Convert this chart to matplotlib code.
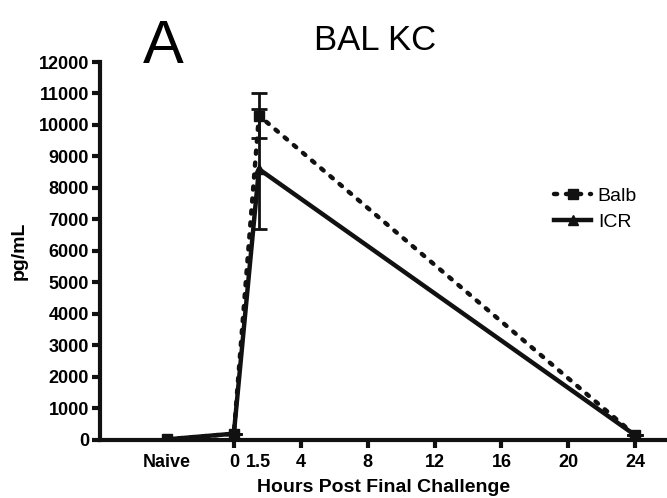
import matplotlib
matplotlib.use("Agg")
import matplotlib.pyplot as plt

plt.rcParams["font.family"] = ["Liberation Sans", "DejaVu Sans"]

# data (hours; naive plotted at -4)
hours = [-4, 0, 1.5, 24]
balb = [20, 200, 10300, 150]
balb_err = [0, 0, 700, 0]
icr = [20, 200, 8600, 150]
icr_err = [0, 0, 1900, 0]

major_ticks = [0, 4, 8, 12, 16, 20, 24]
extra_ticks = [-4, 1.5]
extra_labels = ["Naive", "1.5"]
y_ticks = list(range(0, 12001, 1000))

fig = plt.figure(figsize=(6.67, 4.98), dpi=100)
ax = fig.add_axes([0.15, 0.1165, 0.85, 0.759])

ax.errorbar(hours, balb, yerr=balb_err, color="#111111", lw=3.2, ls=(0, (0.7, 2.0)),
            dash_capstyle="round", marker="s", ms=7, capsize=6, capthick=2,
            elinewidth=2, label="Balb", zorder=3)
ax.errorbar(hours, icr, yerr=icr_err, color="#111111", lw=3.2, ls="-",
            marker="^", ms=7, capsize=6, capthick=2, elinewidth=2, label="ICR",
            zorder=3)

ax.set_xlim(-8, 25.9)
ax.set_ylim(0, 12000)
ax.set_yticks(y_ticks)
ax.set_xticks(major_ticks)
ax.set_xticks(extra_ticks, minor=True)
ax.set_xticklabels(extra_labels, minor=True)

for side in ["top", "right"]:
    ax.spines[side].set_visible(False)
for side in ["left", "bottom"]:
    ax.spines[side].set_linewidth(3)
    ax.spines[side].set_color("#111111")

ax.tick_params(axis="both", which="major", length=6, width=3, color="#111111",
               labelsize=13, pad=2)
ax.tick_params(axis="x", which="minor", length=0, labelsize=13, pad=10)
ax.tick_params(axis="x", which="major", pad=4)
for lbl in ax.get_xticklabels() + ax.get_yticklabels() + ax.get_xticklabels(minor=True):
    lbl.set_fontweight("bold")

ax.set_ylabel("pg/mL", fontsize=14, fontweight="bold", labelpad=8)
ax.set_xlabel("Hours Post Final Challenge", fontsize=14, fontweight="bold", labelpad=6)

fig.text(0.245, 0.905, "A", fontsize=44, ha="center", va="center")
fig.text(0.562, 0.918, "BAL KC", fontsize=25, ha="center", va="center")

handles, labels = ax.get_legend_handles_labels()
ax.legend([h[0] for h in handles], labels, loc="upper left",
          bbox_to_anchor=(0.77, 0.715), frameon=False, fontsize=14,
          handlelength=1.9, handletextpad=0.35, labelspacing=0.45)

fig.savefig("out.png", dpi=100)
